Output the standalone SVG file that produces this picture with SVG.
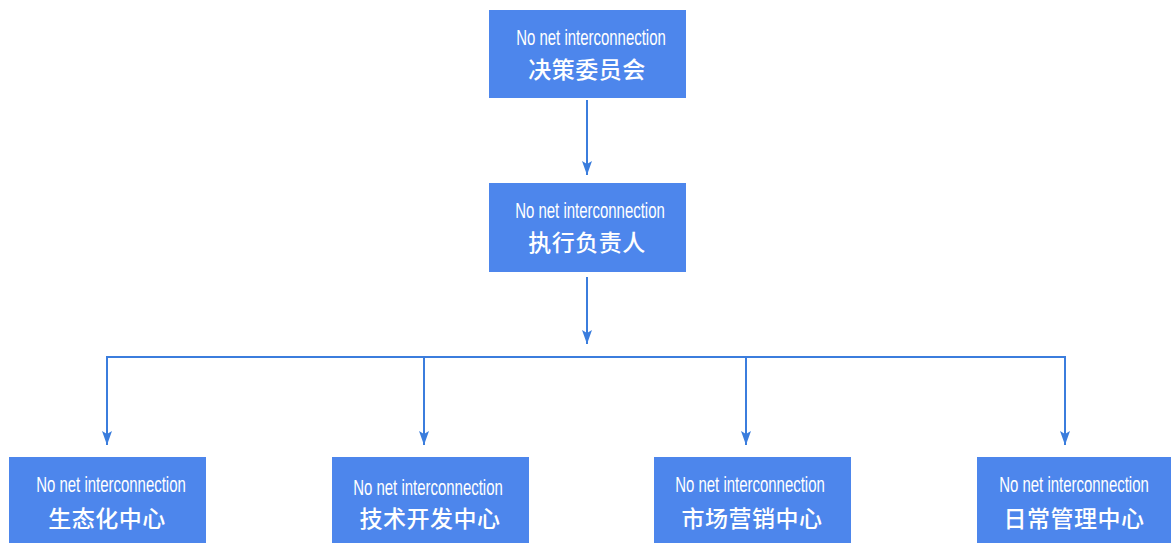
<svg xmlns="http://www.w3.org/2000/svg" width="1171" height="543" viewBox="0 0 1171 543">
<defs>
<style>
.box{fill:#4d86ec;}
.en{font-family:"Liberation Sans",Arial,sans-serif;font-size:22px;fill:#ffffff;text-anchor:middle;}
.zh{font-family:"Noto Sans CJK SC","Noto Sans",sans-serif;font-size:23px;font-weight:500;fill:#ffffff;text-anchor:middle;letter-spacing:0.5px;}
.ln{fill:none;stroke:#3b7ddd;stroke-width:2;}
</style>
<marker id="ah" markerWidth="14" markerHeight="10" refX="14" refY="5" orient="auto" markerUnits="userSpaceOnUse" viewBox="0 0 14 10">
<path d="M0,0 L14,5 L0,10 L3,5 Z" fill="#3b7ddd"/>
</marker>
</defs>
<rect width="1171" height="543" fill="#ffffff"/>
<g id="connectors">
<line class="ln" x1="587" y1="100" x2="587" y2="175" marker-end="url(#ah)"/>
<line class="ln" x1="587" y1="277" x2="587" y2="344" marker-end="url(#ah)"/>
<path class="ln" d="M107,357 H1065"/>
<line class="ln" x1="107" y1="356" x2="107" y2="445" marker-end="url(#ah)"/>
<line class="ln" x1="424" y1="357" x2="424" y2="445" marker-end="url(#ah)"/>
<line class="ln" x1="746" y1="357" x2="746" y2="445" marker-end="url(#ah)"/>
<line class="ln" x1="1065" y1="356" x2="1065" y2="445" marker-end="url(#ah)"/>
</g>
<g id="n1"><rect class="box" x="489" y="10" width="197" height="88"/><text class="en" transform="translate(591,45) scale(0.68,1)">No net interconnection</text><text class="zh" x="587" y="78">决策委员会</text></g>
<g id="n2"><rect class="box" x="489" y="183" width="197" height="89"/><text class="en" transform="translate(590,218) scale(0.68,1)">No net interconnection</text><text class="zh" x="587" y="251">执行负责人</text></g>
<g id="n3"><rect class="box" x="9" y="457" width="197" height="86"/><text class="en" transform="translate(111,492) scale(0.68,1)">No net interconnection</text><text class="zh" x="107" y="527">生态化中心</text></g>
<g id="n4"><rect class="box" x="332" y="457" width="197" height="86"/><text class="en" transform="translate(428,495) scale(0.68,1)">No net interconnection</text><text class="zh" x="430" y="527">技术开发中心</text></g>
<g id="n5"><rect class="box" x="654" y="457" width="197" height="86"/><text class="en" transform="translate(750,492) scale(0.68,1)">No net interconnection</text><text class="zh" x="752" y="527">市场营销中心</text></g>
<g id="n6"><rect class="box" x="977" y="457" width="194" height="86"/><text class="en" transform="translate(1074,492) scale(0.68,1)">No net interconnection</text><text class="zh" x="1074" y="527">日常管理中心</text></g>
</svg>
